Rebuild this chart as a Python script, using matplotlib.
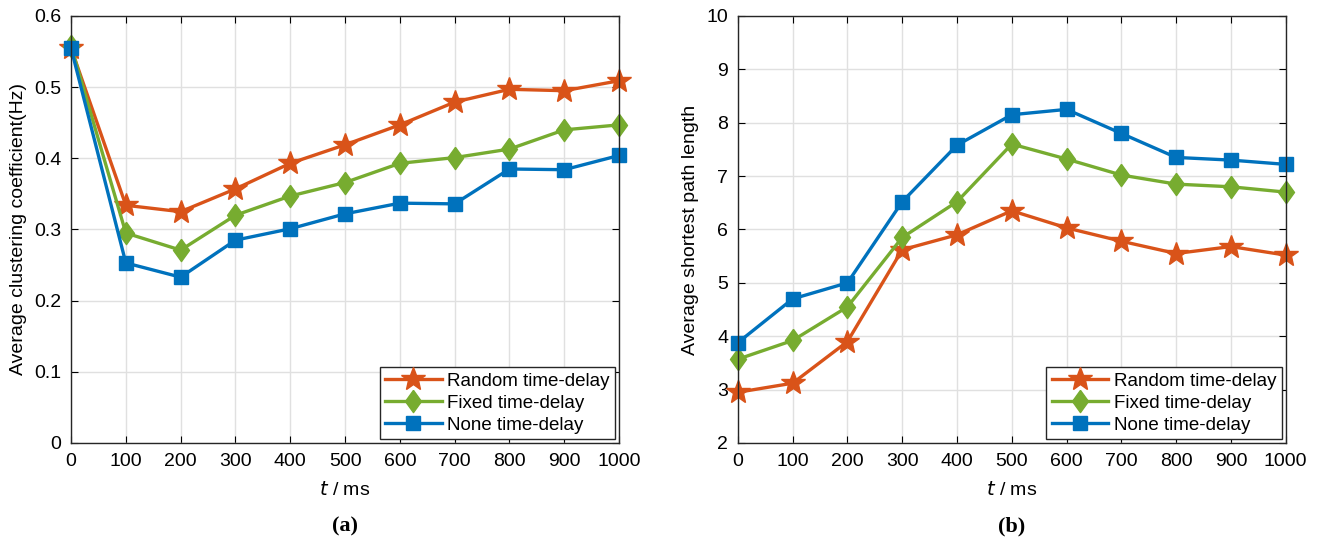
import matplotlib.pyplot as plt

plt.rcParams['font.family'] = ['Liberation Sans', 'DejaVu Sans']

t_ms = [0, 100, 200, 300, 400, 500, 600, 700, 800, 900, 1000]
series_names = ['Random time-delay', 'Fixed time-delay', 'None time-delay']

# average clustering coefficient
clust_random = [0.555, 0.334, 0.325, 0.357, 0.393, 0.419, 0.447, 0.479, 0.497, 0.495, 0.509]
clust_fixed = [0.558, 0.295, 0.271, 0.320, 0.347, 0.366, 0.393, 0.401, 0.413, 0.440, 0.447]
clust_none = [0.555, 0.253, 0.233, 0.285, 0.301, 0.322, 0.337, 0.336, 0.385, 0.384, 0.404]

# average shortest path length
path_random = [2.95, 3.12, 3.90, 5.62, 5.90, 6.35, 6.03, 5.78, 5.55, 5.68, 5.52]
path_fixed = [3.57, 3.92, 4.55, 5.85, 6.52, 7.60, 7.32, 7.02, 6.85, 6.80, 6.70]
path_none = [3.88, 4.70, 5.00, 6.52, 7.58, 8.15, 8.25, 7.80, 7.35, 7.30, 7.22]

colors = ['#D95319', '#77AC30', '#0072BD']
diamond = [(0, 1), (0.72, 0), (0, -1), (-0.72, 0), (0, 1)]
markers = ['*', diamond, 's']
msizes = [18, 16, 10.5]

fig = plt.figure(figsize=(13.2, 5.42), dpi=100)
ax1 = fig.add_axes([0.0538, 0.1827, 0.4152, 0.7878])
ax2 = fig.add_axes([0.559, 0.1827, 0.415, 0.7878])


def draw(ax, ys, ylim, yticks, ylabel, tag):
    for y, c, m, ms, name in zip(ys, colors, markers, msizes, series_names):
        ax.plot(t_ms, y, color=c, marker=m, markersize=ms, linewidth=2.4,
                markerfacecolor=c, markeredgecolor=c, label=name, clip_on=False)
    ax.set_xlim(0, 1000)
    ax.set_ylim(*ylim)
    ax.set_xticks(t_ms)
    ax.set_yticks(yticks)
    ax.grid(True, color='#e0e0e0', linewidth=1)
    ax.set_axisbelow(True)
    ax.tick_params(direction='in', top=True, right=True, labelsize=14, length=5, pad=7)
    for s in ax.spines.values():
        s.set_linewidth(1)
        s.set_color('#262626')
    ax.set_ylabel(ylabel, fontsize=14, labelpad=5)
    ax.set_xlabel(r'$\it{t}$ / ms', fontsize=14, labelpad=8)
    leg = ax.legend(loc='lower right', fontsize=13.5, frameon=True, fancybox=False,
                    framealpha=1, handlelength=3, borderaxespad=0.2, labelspacing=0.25,
                    handletextpad=0.3, borderpad=0.3)
    leg.get_frame().set_edgecolor('#262626')
    leg.get_frame().set_linewidth(1)
    ax.text(0.5, -0.195, tag, transform=ax.transAxes, ha='center', va='center',
            fontsize=16, fontweight='bold', family='Liberation Serif')


draw(ax1, [clust_random, clust_fixed, clust_none], (0, 0.6),
     [0, 0.1, 0.2, 0.3, 0.4, 0.5, 0.6], 'Average clustering coefficient(Hz)', '(a)')
ax1.set_yticklabels(['0', '0.1', '0.2', '0.3', '0.4', '0.5', '0.6'])
draw(ax2, [path_random, path_fixed, path_none], (2, 10),
     list(range(2, 11)), 'Average shortest path length', '(b)')

fig.savefig('out.png', dpi=100)
